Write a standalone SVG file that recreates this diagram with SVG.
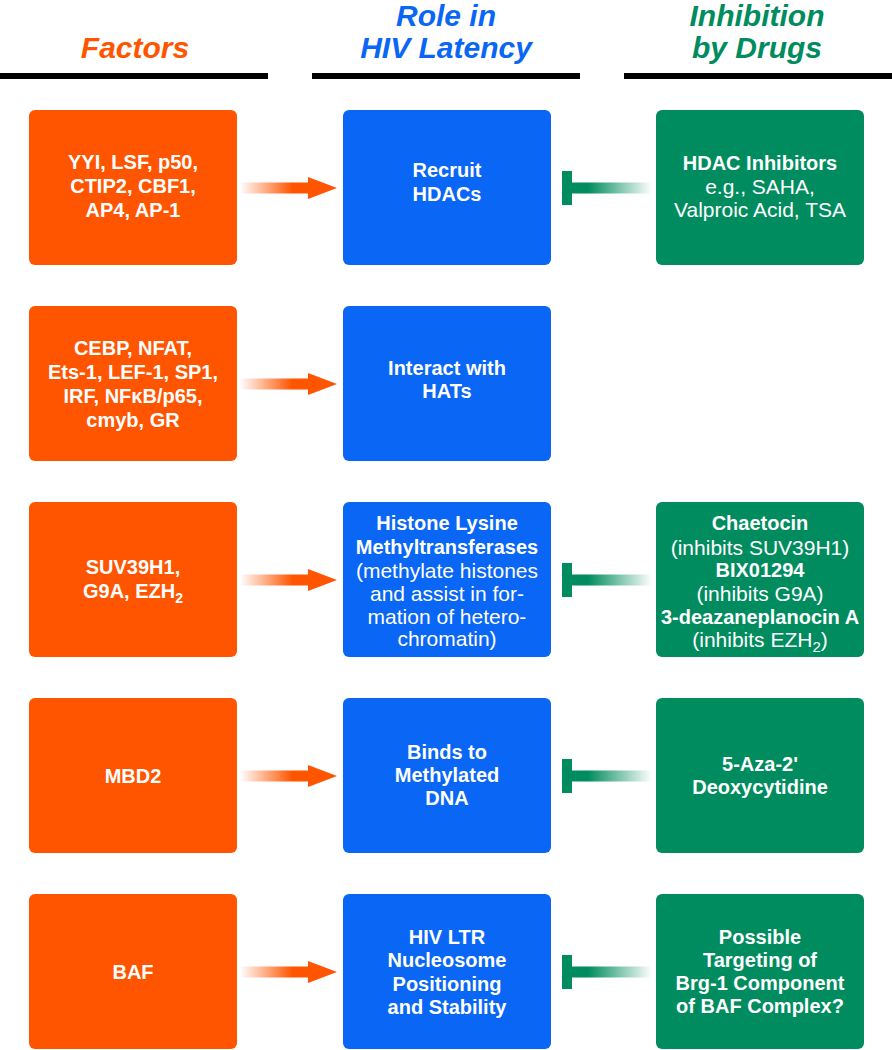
<svg xmlns="http://www.w3.org/2000/svg" width="892" height="1050" viewBox="0 0 892 1050">
<style>
.hd{font-family:"Liberation Sans",Arial,sans-serif;font-weight:bold;font-style:italic;font-size:30px;text-anchor:middle}
.t{font-family:"Liberation Sans",Arial,sans-serif;font-size:20px;fill:#fff;text-anchor:middle}
.b{font-weight:bold}
.l{font-size:21px}
.or{fill:#FF5500}
.bl{fill:#0A66F5}
.gr{fill:#008C5E}
.rule{fill:#000}
</style>
<defs>
<linearGradient id="fadeO" x1="0" y1="0" x2="1" y2="0">
<stop offset="0" stop-color="#FF5500" stop-opacity="0"/>
<stop offset="0.75" stop-color="#FF5500" stop-opacity="1"/>
</linearGradient>
<linearGradient id="fadeG" x1="0" y1="0" x2="1" y2="0">
<stop offset="0.2" stop-color="#008C5E" stop-opacity="1"/>
<stop offset="1" stop-color="#008C5E" stop-opacity="0"/>
</linearGradient>
</defs>
<rect width="892" height="1050" fill="#fff"/>
<g id="headers">
<text class="hd or" x="135" y="58">Factors</text>
<text class="hd bl" x="446" y="26">Role in</text>
<text class="hd bl" x="446" y="58">HIV Latency</text>
<text class="hd gr" x="757" y="26">Inhibition</text>
<text class="hd gr" x="757" y="58">by Drugs</text>
<rect class="rule" x="0" y="73" width="268" height="6"/>
<rect class="rule" x="312" y="73" width="268" height="6"/>
<rect class="rule" x="624" y="73" width="268" height="6"/>
</g>
<g id="connectors">
<g id="act1"><rect x="240" y="182.5" width="70" height="11" fill="url(#fadeO)"/><polygon class="or" points="308,177 337,188 308,199"/></g>
<g id="act2"><rect x="240" y="378.5" width="70" height="11" fill="url(#fadeO)"/><polygon class="or" points="308,373 337,384 308,395"/></g>
<g id="act3"><rect x="240" y="574.5" width="70" height="11" fill="url(#fadeO)"/><polygon class="or" points="308,569 337,580 308,591"/></g>
<g id="act4"><rect x="240" y="770.5" width="70" height="11" fill="url(#fadeO)"/><polygon class="or" points="308,765 337,776 308,787"/></g>
<g id="act5"><rect x="240" y="966.5" width="70" height="11" fill="url(#fadeO)"/><polygon class="or" points="308,961 337,972 308,983"/></g>
<g id="inh1"><rect x="572" y="182.5" width="80" height="11" fill="url(#fadeG)"/><rect class="gr" x="562" y="171" width="10" height="34"/></g>
<g id="inh3"><rect x="572" y="574.5" width="80" height="11" fill="url(#fadeG)"/><rect class="gr" x="562" y="563" width="10" height="34"/></g>
<g id="inh4"><rect x="572" y="770.5" width="80" height="11" fill="url(#fadeG)"/><rect class="gr" x="562" y="759" width="10" height="34"/></g>
<g id="inh5"><rect x="572" y="966.5" width="80" height="11" fill="url(#fadeG)"/><rect class="gr" x="562" y="955" width="10" height="34"/></g>
</g>
<g id="f1"><rect class="or" x="29" y="110" width="208" height="155" rx="6"/>
<text class="t b" x="133" y="169">YYI, LSF, p50,</text><text class="t b" x="133" y="193">CTIP2, CBF1,</text><text class="t b" x="133" y="217">AP4, AP-1</text></g>
<g id="f2"><rect class="or" x="29" y="306" width="208" height="155" rx="6"/>
<text class="t b" x="133" y="355">CEBP, NFAT,</text><text class="t b" x="133" y="379">Ets-1, LEF-1, SP1,</text><text class="t b" x="133" y="403">IRF, NFκB/p65,</text><text class="t b" x="133" y="427">cmyb, GR</text></g>
<g id="f3"><rect class="or" x="29" y="502" width="208" height="155" rx="6"/>
<text class="t b" x="133" y="574">SUV39H1,</text><text class="t b" x="133" y="598">G9A, EZH<tspan font-size="14" dy="5">2</tspan></text></g>
<g id="f4"><rect class="or" x="29" y="698" width="208" height="155" rx="6"/>
<text class="t b" x="133" y="783">MBD2</text></g>
<g id="f5"><rect class="or" x="29" y="894" width="208" height="155" rx="6"/>
<text class="t b" x="133" y="979">BAF</text></g>
<g id="r1"><rect class="bl" x="343" y="110" width="208" height="155" rx="6"/>
<text class="t b" x="447" y="177">Recruit</text><text class="t b" x="447" y="201">HDACs</text></g>
<g id="r2"><rect class="bl" x="343" y="306" width="208" height="155" rx="6"/>
<text class="t b" x="447" y="375">Interact with</text><text class="t b" x="447" y="398">HATs</text></g>
<g id="r3"><rect class="bl" x="343" y="502" width="208" height="155" rx="6"/>
<text class="t b" x="447" y="530">Histone Lysine</text><text class="t b" x="447" y="554">Methyltransferases</text>
<text class="t l" x="447" y="578">(methylate histones</text><text class="t l" x="447" y="601">and assist in for-</text><text class="t l" x="447" y="624">mation of hetero-</text><text class="t l" x="447" y="646">chromatin)</text></g>
<g id="r4"><rect class="bl" x="343" y="698" width="208" height="155" rx="6"/>
<text class="t b" x="447" y="759">Binds to</text><text class="t b" x="447" y="782">Methylated</text><text class="t b" x="447" y="805">DNA</text></g>
<g id="r5"><rect class="bl" x="343" y="894" width="208" height="155" rx="6"/>
<text class="t b" x="447" y="944">HIV LTR</text><text class="t b" x="447" y="967">Nucleosome</text><text class="t b" x="447" y="991">Positioning</text><text class="t b" x="447" y="1014">and Stability</text></g>
<g id="d1"><rect class="gr" x="656" y="110" width="208" height="155" rx="6"/>
<text class="t b" x="760" y="170">HDAC Inhibitors</text><text class="t l" x="760" y="194">e.g., SAHA,</text><text class="t l" x="760" y="217">Valproic Acid, TSA</text></g>
<g id="d3"><rect class="gr" x="656" y="502" width="208" height="155" rx="6"/>
<text class="t b" x="760" y="530">Chaetocin</text><text class="t l" x="760" y="555">(inhibits SUV39H1)</text>
<text class="t b" x="760" y="577">BIX01294</text><text class="t l" x="760" y="601">(inhibits G9A)</text>
<text class="t b" x="760" y="624">3-deazaneplanocin A</text><text class="t l" x="760" y="647">(inhibits EZH<tspan font-size="15" dy="5">2</tspan><tspan dy="-5">)</tspan></text></g>
<g id="d4"><rect class="gr" x="656" y="698" width="208" height="155" rx="6"/>
<text class="t b" x="760" y="771">5-Aza-2'</text><text class="t b" x="760" y="794">Deoxycytidine</text></g>
<g id="d5"><rect class="gr" x="656" y="894" width="208" height="155" rx="6"/>
<text class="t b" x="760" y="944">Possible</text><text class="t b" x="760" y="967">Targeting of</text><text class="t b" x="760" y="990">Brg-1 Component</text><text class="t b" x="760" y="1013">of BAF Complex?</text></g>
</svg>
